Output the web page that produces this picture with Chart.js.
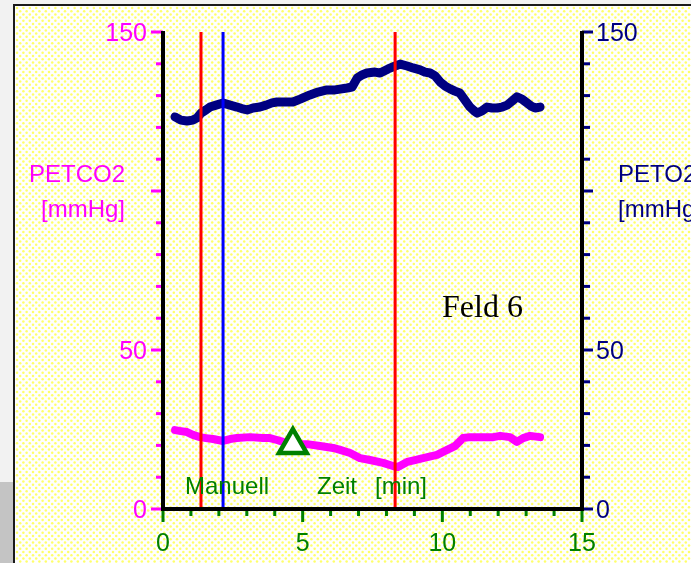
<!DOCTYPE html>
<html>
<head>
<meta charset="utf-8">
<script src="https://cdn.jsdelivr.net/npm/chart.js@4/dist/chart.umd.min.js"></script>
<style>
  html, body { margin: 0; padding: 0; background: #fff; overflow: hidden; }
  canvas { display: block; }
</style>
</head>
<body>
<canvas id="c" width="691" height="563"></canvas>
<script>
// End-tidal O2 trace (right axis, mmHg) over time in minutes
const peto2Time = [0.43, 0.64, 0.86, 1.07, 1.22, 1.36, 1.54, 1.68, 1.90, 2.15, 2.40, 2.65, 2.86, 3.01, 3.22, 3.47, 3.69, 3.90, 4.08, 4.37, 4.65, 4.91, 5.26, 5.55, 5.87, 6.16, 6.59, 6.77, 6.95, 7.12, 7.30, 7.59, 7.77, 8.06, 8.31, 8.49, 8.74, 8.95, 9.20, 9.38, 9.56, 9.74, 9.92, 10.10, 10.28, 10.45, 10.63, 10.81, 10.99, 11.14, 11.24, 11.42, 11.60, 11.78, 11.96, 12.14, 12.32, 12.50, 12.67, 12.85, 13.03, 13.18, 13.32, 13.50];
const peto2Values = [123.3, 122.3, 122.0, 122.3, 123.0, 124.5, 125.5, 126.4, 127.0, 127.7, 127.0, 126.4, 125.8, 125.5, 126.1, 126.4, 127.0, 127.7, 128.0, 128.0, 128.0, 128.9, 130.2, 131.1, 131.8, 131.8, 132.4, 132.7, 135.5, 136.5, 137.1, 137.4, 137.1, 138.4, 139.3, 139.9, 139.3, 138.7, 138.1, 137.4, 137.1, 136.2, 134.3, 133.0, 132.1, 131.4, 130.8, 128.6, 126.4, 125.2, 124.5, 125.2, 126.4, 126.1, 126.1, 126.4, 127.0, 128.3, 129.6, 128.9, 127.7, 126.7, 126.1, 126.4];

// End-tidal CO2 trace (left axis, mmHg)
const petco2Time = [0.43, 0.64, 0.86, 1.07, 1.32, 1.54, 1.79, 2.15, 2.40, 2.65, 3.11, 3.58, 3.83, 4.08, 4.30, 4.65, 5.16, 5.62, 6.09, 6.34, 6.70, 7.05, 7.41, 7.88, 8.23, 8.41, 8.74, 9.02, 9.31, 9.81, 10.17, 10.45, 10.74, 10.99, 11.46, 11.82, 12.07, 12.42, 12.67, 12.89, 13.14, 13.50];
const petco2Values = [24.8, 24.5, 24.2, 23.3, 22.6, 22.3, 22.0, 21.4, 22.0, 22.3, 22.6, 22.3, 22.3, 21.7, 21.1, 20.4, 20.4, 19.8, 19.2, 18.6, 17.6, 16.0, 15.4, 14.5, 13.5, 13.2, 14.8, 15.4, 16.0, 17.0, 18.6, 19.8, 22.3, 22.6, 22.6, 22.6, 23.0, 22.6, 21.1, 22.3, 23.0, 22.6];

// Cursor lines (minutes)
const redCursorTimes = [1.36, 8.31];
const blueCursorTimes = [2.15];

// Manual event marker
const eventTimes = [4.65];
const eventValues = [20.1];

// Axis ranges and tick labels
const timeRange = [0, 15];
const pressureRange = [0, 150];
const xTickLabels = ['0', '5', '10', '15'];
const leftTickLabels = ['0', '50', '150'];
const rightTickLabels = ['0', '50', '150'];
const leftTitle = ['PETCO2', '[mmHg]'];
const rightTitle = ['PETO2', '[mmHg]'];
const xTitleParts = ['Manuell', 'Zeit', '[min]'];
const panelLabel = 'Feld 6';

const MAGENTA = '#ff00ff';
const NAVY = '#000080';
const GREEN = '#008000';
const SANS = '"Liberation Sans", Arial, sans-serif';

const toPoints = (xs, ys) => xs.map((t, i) => ({ x: t, y: ys[i] }));
const cursor = (t, color) => ({
  data: [{ x: t, y: pressureRange[0] }, { x: t, y: pressureRange[1] }],
  borderColor: color, borderWidth: 3, pointRadius: 0, yAxisID: 'y', order: 0
});

const panel = {
  id: 'panel',
  beforeDraw(chart) {
    const ctx = chart.ctx, W = chart.width, H = chart.height;
    ctx.save();
    ctx.fillStyle = '#f2f2f2';
    ctx.fillRect(0, 0, W, H);
    ctx.fillStyle = '#c4c4c4';
    ctx.fillRect(0, 482, 14, H - 482);
    ctx.fillStyle = '#ffffff';
    ctx.fillRect(14, 5, W - 14, H - 5);
    // dotted yellow backdrop
    ctx.fillStyle = '#ffff6a';
    for (let j = 0, py = 8; py < H; j++, py += 3.2) {
      for (let px = 17 + (j % 2) * 3.2; px < W; px += 6.4) {
        ctx.beginPath();
        ctx.arc(px, py, 1.25, 0, Math.PI * 2);
        ctx.fill();
      }
    }
    ctx.strokeStyle = '#1a1a1a';
    ctx.lineWidth = 2;
    ctx.beginPath();
    ctx.moveTo(14, H);
    ctx.lineTo(14, 5);
    ctx.lineTo(W, 5);
    ctx.stroke();
    ctx.restore();
  },
  afterDatasetsDraw(chart) {
    const ctx = chart.ctx;
    const { x, y, y2 } = chart.scales;
    const xl = x.getPixelForValue(timeRange[0]);
    const xr = x.getPixelForValue(timeRange[1]);
    const yb = y.getPixelForValue(pressureRange[0]);
    const yt = y.getPixelForValue(pressureRange[1]);
    ctx.save();

    // left axis ticks (every 10 mmHg, longer every 50)
    ctx.fillStyle = MAGENTA;
    for (let v = pressureRange[0]; v <= pressureRange[1]; v += 10) {
      const py = y.getPixelForValue(v);
      const major = v % 50 === 0;
      ctx.fillRect(major ? xl - 12 : xl - 7, py - 1.5, major ? 12 : 7, 3);
    }
    // right axis ticks
    ctx.fillStyle = NAVY;
    for (let v = pressureRange[0]; v <= pressureRange[1]; v += 10) {
      const py = y2.getPixelForValue(v);
      const major = v % 50 === 0;
      ctx.fillRect(xr, py - 1.5, major ? 11 : 8, 3);
    }
    // time ticks (every minute, longer every 5)
    ctx.fillStyle = GREEN;
    for (let t = timeRange[0]; t <= timeRange[1]; t += 1) {
      const px = x.getPixelForValue(t);
      const major = t % 5 === 0;
      ctx.fillRect(px - 1.5, yb, 3, major ? 13 : 7);
    }

    // axis lines
    ctx.strokeStyle = '#000';
    ctx.lineWidth = 4;
    ctx.lineCap = 'butt';
    ctx.beginPath();
    ctx.moveTo(xl, yt - 1);
    ctx.lineTo(xl, yb);
    ctx.lineTo(xr, yb);
    ctx.moveTo(xr, yt - 1);
    ctx.lineTo(xr, yb + 2);
    ctx.stroke();

    // tick labels
    ctx.font = '25px ' + SANS;
    ctx.textBaseline = 'alphabetic';
    ctx.fillStyle = MAGENTA;
    ctx.textAlign = 'right';
    leftTickLabels.forEach(s => ctx.fillText(s, xl - 16, y.getPixelForValue(+s) + 9));
    ctx.fillStyle = NAVY;
    ctx.textAlign = 'left';
    rightTickLabels.forEach(s => ctx.fillText(s, xr + 14, y2.getPixelForValue(+s) + 9));
    ctx.fillStyle = GREEN;
    ctx.textAlign = 'center';
    xTickLabels.forEach(s => ctx.fillText(s, x.getPixelForValue(+s), yb + 42));

    // axis titles
    ctx.font = '24px ' + SANS;
    ctx.fillStyle = MAGENTA;
    ctx.textAlign = 'right';
    ctx.fillText(leftTitle[0], 125, 182);
    ctx.fillText(leftTitle[1], 125, 217);
    ctx.fillStyle = NAVY;
    ctx.textAlign = 'left';
    ctx.fillText(rightTitle[0], 618, 182);
    ctx.fillText(rightTitle[1], 618, 217);
    ctx.fillStyle = GREEN;
    ctx.fillText(xTitleParts[0], 185, 494);
    ctx.fillText(xTitleParts[1], 317, 494);
    ctx.fillText(xTitleParts[2], 375, 494);

    // panel caption
    ctx.font = '32px "Liberation Serif", "Times New Roman", serif';
    ctx.fillStyle = '#000';
    ctx.fillText(panelLabel, 442, 317);
    ctx.restore();
  }
};

new Chart(document.getElementById('c'), {
  type: 'line',
  data: {
    datasets: [
      ...redCursorTimes.map(t => cursor(t, '#ff0000')),
      ...blueCursorTimes.map(t => cursor(t, '#0000ff')),
      {
        label: 'Manuell',
        data: toPoints(eventTimes, eventValues),
        showLine: false,
        pointStyle: 'triangle',
        pointRadius: 16,
        pointBorderWidth: 4.5,
        pointBorderColor: GREEN,
        pointBackgroundColor: '#ffffff',
        yAxisID: 'y',
        order: 0
      },
      {
        label: 'PETO2',
        data: toPoints(peto2Time, peto2Values),
        borderColor: NAVY,
        borderWidth: 9,
        pointRadius: 0,
        borderJoinStyle: 'round',
        borderCapStyle: 'round',
        yAxisID: 'y2',
        order: 1
      },
      {
        label: 'PETCO2',
        data: toPoints(petco2Time, petco2Values),
        borderColor: MAGENTA,
        borderWidth: 8,
        pointRadius: 0,
        borderJoinStyle: 'round',
        borderCapStyle: 'round',
        yAxisID: 'y',
        order: 1
      }
    ]
  },
  options: {
    responsive: false,
    animation: false,
    devicePixelRatio: 1,
    events: [],
    layout: { padding: { left: 163, right: 109, top: 32, bottom: 54 } },
    scales: {
      x: { type: 'linear', min: timeRange[0], max: timeRange[1], display: false },
      y: { type: 'linear', min: pressureRange[0], max: pressureRange[1], display: false },
      y2: { type: 'linear', position: 'right', min: pressureRange[0], max: pressureRange[1], display: false }
    },
    plugins: { legend: { display: false }, tooltip: { enabled: false } }
  },
  plugins: [panel]
});
</script>
</body>
</html>
